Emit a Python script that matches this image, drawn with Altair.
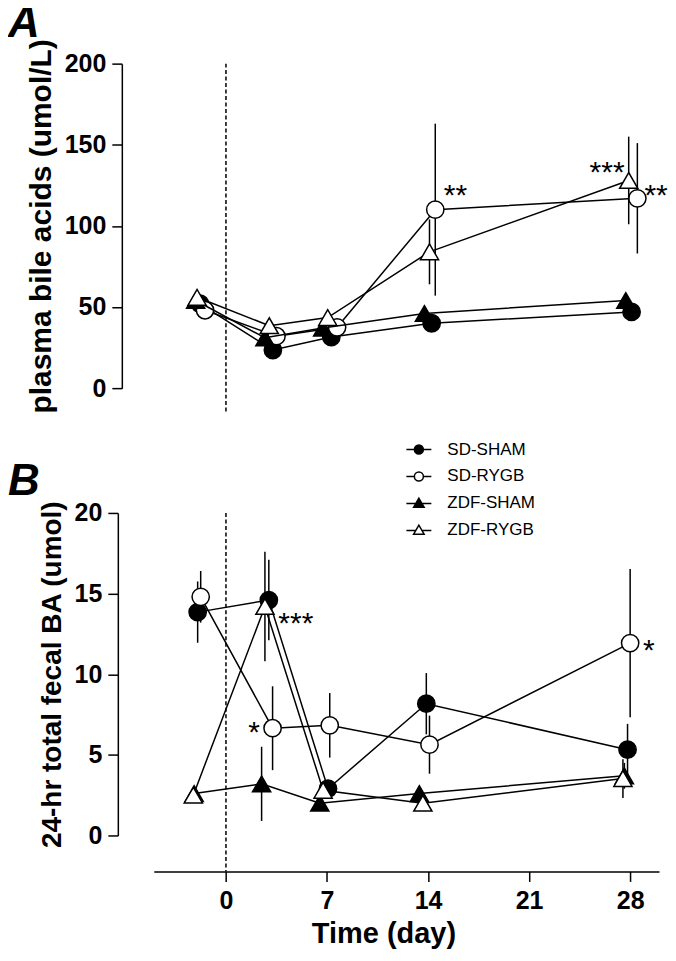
import altair as alt
import pandas as pd

groups = ["SD-SHAM", "SD-RYGB", "ZDF-SHAM", "ZDF-RYGB"]

# ---------------- Panel A: plasma bile acids (umol/L) ----------------
a_sd_sham_day = [-1.8, 3.25, 7.3, 14.25, 28.1]
a_sd_sham_val = [52, 23.5, 31.5, 40, 47]
a_sd_sham_err = [3, 2, 2, 3, 3]

a_sd_rygb_day = [-1.45, 3.5, 7.7, 14.5, 28.5]
a_sd_rygb_val = [48, 32, 37.5, 110, 117]
a_sd_rygb_err = [4, 3, 4, 53, 34]

a_zdf_sham_day = [-2.1, 2.7, 6.7, 13.75, 27.7]
a_zdf_sham_val = [54, 31, 37, 46, 54]
a_zdf_sham_err = [3, 3, 3, 3, 4]

a_zdf_rygb_day = [-2.0, 3.0, 7.05, 14.1, 27.9]
a_zdf_rygb_val = [56, 38.5, 43.5, 84, 128]
a_zdf_rygb_err = [4, 4, 4, 20, 27]

a_star_text = ["**", "***", "**"]
a_star_day = [15.9, 26.4, 29.8]
a_star_val = [123, 137, 123]

# ---------------- Panel B: 24-hr total fecal BA (umol) ----------------
b_sd_sham_day = [-1.96, 2.97, 7.07, 13.88, 27.82]
b_sd_sham_val = [13.85, 14.6, 2.9, 8.17, 5.32]
b_sd_sham_err = [1.9, 2.5, 0.5, 1.9, 1.6]

b_sd_rygb_day = [-1.75, 3.23, 7.19, 14.1, 28.0]
b_sd_rygb_val = [14.8, 6.65, 6.83, 5.63, 11.93]
b_sd_rygb_err = [1.6, 2.6, 2.0, 1.8, 4.6]

b_zdf_sham_day = [-2.2, 2.47, 6.5, 13.4, 27.6]
b_zdf_sham_val = [2.6, 3.2, 2.0, 2.6, 3.7]
b_zdf_sham_err = [0.3, 2.3, 0.2, 0.4, 0.8]

b_zdf_rygb_day = [-2.26, 2.7, 6.73, 13.64, 27.5]
b_zdf_rygb_val = [2.5, 14.2, 2.8, 2.0, 3.53]
b_zdf_rygb_err = [0.3, 3.4, 0.4, 0.3, 1.2]

b_star_text = ["***", "*", "*"]
b_star_day = [4.84, 1.94, 29.3]
b_star_val = [13.56, 6.8, 11.9]

surgery_day = [0]
x_ticks = [0, 7, 14, 21, 28]
a_y_ticks = [0, 50, 100, 150, 200]
b_y_ticks = [0, 5, 10, 15, 20]

FONT = "Liberation Sans"


def table(series):
    rows = []
    for g, days, vals, errs in series:
        for d, v, e in zip(days, vals, errs):
            rows.append({"group": g, "day": d, "value": v, "lo": v - e, "hi": v + e})
    return pd.DataFrame(rows)


dfA = table([
    ("SD-SHAM", a_sd_sham_day, a_sd_sham_val, a_sd_sham_err),
    ("SD-RYGB", a_sd_rygb_day, a_sd_rygb_val, a_sd_rygb_err),
    ("ZDF-SHAM", a_zdf_sham_day, a_zdf_sham_val, a_zdf_sham_err),
    ("ZDF-RYGB", a_zdf_rygb_day, a_zdf_rygb_val, a_zdf_rygb_err),
])
dfB = table([
    ("SD-SHAM", b_sd_sham_day, b_sd_sham_val, b_sd_sham_err),
    ("SD-RYGB", b_sd_rygb_day, b_sd_rygb_val, b_sd_rygb_err),
    ("ZDF-SHAM", b_zdf_sham_day, b_zdf_sham_val, b_zdf_sham_err),
    ("ZDF-RYGB", b_zdf_rygb_day, b_zdf_rygb_val, b_zdf_rygb_err),
])
starsA = pd.DataFrame({"t": a_star_text, "day": a_star_day, "value": a_star_val})
starsB = pd.DataFrame({"t": b_star_text, "day": b_star_day, "value": b_star_val})

marker_style = {
    "SD-SHAM": dict(shape="circle", fill="black", size=300),
    "SD-RYGB": dict(shape="circle", fill="white", size=300),
    "ZDF-SHAM": dict(shape="triangle-up", fill="black", size=330),
    "ZDF-RYGB": dict(shape="triangle-up", fill="white", size=330),
}

legend_paths = [
    "M-1,0L-0.36,0M0.36,0L1,0M-0.36,0A0.36,0.36,0,1,0,0.36,0A0.36,0.36,0,1,0,-0.36,0Z",
    "M-1,0L-0.36,0M0.36,0L1,0M-0.36,0A0.36,0.36,0,1,0,0.36,0A0.36,0.36,0,1,0,-0.36,0Z",
    "M-1,0L-0.25,0M0.25,0L1,0M0,-0.42L-0.42,0.3L0.42,0.3Z",
    "M-1,0L-0.25,0M0.25,0L1,0M0,-0.42L-0.42,0.3L0.42,0.3Z",
]

W = 506
xscale = alt.Scale(domain=[-5, 30], nice=False, zero=False)


def yaxis(title, values, offset, title_size):
    return alt.Axis(values=values, title=title, offset=offset, tickSize=10, tickWidth=1.5,
                    domainWidth=1.5, domainColor="black", tickColor="black", grid=False,
                    labelFont=FONT, labelFontSize=25, labelFontWeight="bold", labelColor="black",
                    labelPadding=6, titleFont=FONT, titleFontSize=title_size, titleFontWeight="bold",
                    titleColor="black", titlePadding=8)


def panel(df, stars, yscale, ax_y, ax_x, dash_lo, dash_hi, height, title, title_offset, legend=False):
    x = alt.X("day:Q", scale=xscale, axis=ax_x)
    y = alt.Y("value:Q", scale=yscale, axis=ax_y)
    layers = []
    rule_df = pd.DataFrame({"day": surgery_day})
    layers.append(alt.Chart(rule_df).mark_rule(color="black", strokeWidth=1.5, strokeDash=[4, 2.5]).encode(
        x=x, y=alt.datum(dash_hi, scale=yscale), y2=alt.datum(dash_lo)))
    for g in groups:
        base = alt.Chart(df).transform_filter(alt.datum.group == g)
        st = marker_style[g]
        layers.append(base.mark_rule(color="black", strokeWidth=1.5).encode(x=x, y="lo:Q", y2="hi:Q"))
        layers.append(base.mark_line(color="black", strokeWidth=1.5).encode(x=x, y=y))
        layers.append(base.mark_point(shape=st["shape"], filled=True, fill=st["fill"], stroke="black",
                                      strokeWidth=1.5, size=st["size"], opacity=1).encode(x=x, y=y))
    layers.append(alt.Chart(stars).mark_text(font=FONT, fontSize=30, color="black", baseline="alphabetic",
                                             align="center", dy=16).encode(x=x, y=y, text="t:N"))
    if legend:
        leg = alt.Legend(title=None, orient="none", legendX=252, legendY=373, labelFont=FONT,
                         labelFontSize=17, labelColor="black", symbolSize=625, symbolOpacity=1,
                         symbolStrokeColor="black", symbolStrokeWidth=1.5, rowPadding=5,
                         labelOffset=15, padding=0, direction="vertical")
        layers.append(alt.Chart(df).mark_point(opacity=0, filled=True, stroke="black").encode(
            x=x, y=y,
            shape=alt.Shape("group:N", scale=alt.Scale(domain=groups, range=legend_paths), legend=leg),
            fill=alt.Fill("group:N", scale=alt.Scale(domain=groups, range=["black", "white", "black", "white"]),
                          legend=leg),
            stroke=alt.Stroke("group:N", scale=alt.Scale(domain=groups, range=["black"] * 4), legend=leg),
        ))
    return alt.layer(*layers).properties(
        width=W, height=height,
        title=alt.TitleParams(title, anchor="start", frame="group", dx=-146, font=FONT, fontSize=44,
                              fontStyle="italic", fontWeight="bold", color="black", offset=title_offset),
    )


panelA = panel(dfA, starsA, alt.Scale(domain=[0, 200], nice=False, zero=False),
               yaxis("plasma bile acids (umol/L)", a_y_ticks, 32, 30), None, -14.8, 200, 325, "A", -7)

xaxis = alt.Axis(values=x_ticks, title="Time (day)", offset=36, tickSize=10, tickWidth=1.5, domainWidth=1.5,
                 domainColor="black", tickColor="black", grid=False, labelFont=FONT, labelFontSize=25,
                 labelFontWeight="bold", labelColor="black", labelPadding=7, titleFont=FONT, titleFontSize=29,
                 titleFontWeight="bold", titleColor="black", titlePadding=6, titleX=230, titleAlign="center")
panelB = panel(dfB, starsB, alt.Scale(domain=[0, 20], nice=False, zero=False),
               yaxis("24-hr total fecal BA (umol)", b_y_ticks, 36, 28), xaxis, -2.23, 20, 323, "B", -4,
               legend=True)

chart = alt.vconcat(panelA, panelB, spacing=46).properties(
    padding={"top": -8, "left": 0, "right": 0, "bottom": 0}, background="white"
).configure_view(strokeWidth=0)

chart.save("out.html", embed_options={"renderer": "svg", "actions": False})
